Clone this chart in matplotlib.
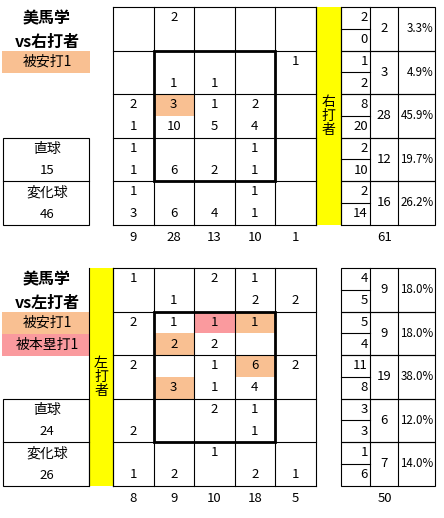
import matplotlib.pyplot as plt
from matplotlib.patches import Rectangle

plt.rcParams['font.family'] = ['Noto Sans CJK JP', 'DejaVu Sans']

pitcher = "美馬学"
titles = ["vs右打者", "vs左打者"]
side_labels = ["右打者", "左打者"]
pitch_names = ["直球", "変化球"]

# 5x5 zone grid, upper number = fastball, lower number = breaking ball
rhb_fast = [[0, 2, 0, 0, 0],
            [0, 0, 0, 0, 1],
            [2, 3, 1, 2, 0],
            [1, 0, 0, 1, 0],
            [1, 0, 0, 1, 0]]
rhb_break = [[0, 0, 0, 0, 0],
             [0, 1, 1, 0, 0],
             [1, 10, 5, 4, 0],
             [1, 6, 2, 1, 0],
             [3, 6, 4, 1, 0]]
lhb_fast = [[1, 0, 2, 1, 0],
            [2, 1, 1, 1, 0],
            [2, 0, 1, 6, 2],
            [0, 0, 2, 1, 0],
            [0, 0, 1, 0, 0]]
lhb_break = [[0, 1, 0, 2, 2],
             [0, 2, 2, 0, 0],
             [0, 3, 1, 4, 0],
             [2, 0, 0, 1, 0],
             [1, 2, 0, 2, 1]]

# highlighted cells: (row, col, half 0=upper/1=lower, kind)
rhb_marks = [(2, 1, 0, "hit")]
lhb_marks = [(1, 2, 0, "hr"), (1, 3, 0, "hit"), (1, 1, 1, "hit"),
             (2, 1, 1, "hit"), (2, 3, 0, "hit")]
legend_rhb = [("被安打1", "hit")]
legend_lhb = [("被安打1", "hit"), ("被本塁打1", "hr")]

colors = {"hit": "#F9C092", "hr": "#FA9A9E"}
YELLOW = "#FFFF00"

fig = plt.figure(figsize=(4.44, 5.18), dpi=100)
ax = fig.add_axes([0, 0, 1, 1])
ax.set_xlim(0, 444)
ax.set_ylim(518, 0)
ax.axis('off')

FS = 9.5
LW = 0.8


def panel(top, fast, brk, marks, title, side, legend, band_left):
    gx0 = 113
    cw = 40.5
    rh = 43.5
    xs = [gx0 + i * cw for i in range(6)]
    ys = [top + i * rh for i in range(6)]
    bottom = ys[-1]

    # highlight cells
    for r, c, h, kind in marks:
        ax.add_patch(Rectangle((xs[c], ys[r] + h * rh / 2), cw, rh / 2,
                               facecolor=colors[kind], edgecolor='none', zorder=1))
    # grid lines
    for x in xs:
        ax.plot([x, x], [top, bottom], color='black', lw=LW, zorder=2)
    for y in ys:
        ax.plot([xs[0], xs[-1]], [y, y], color='black', lw=LW, zorder=2)
    ax.add_patch(Rectangle((xs[1], ys[1]), 3 * cw, 3 * rh, fill=False,
                           edgecolor='black', lw=2.0, zorder=3))
    # cell values
    for r in range(5):
        for c in range(5):
            cx = xs[c] + cw / 2
            if fast[r][c]:
                ax.text(cx, ys[r] + rh * 0.25, str(fast[r][c]), ha='center',
                        va='center', fontsize=FS, zorder=4)
            if brk[r][c]:
                ax.text(cx, ys[r] + rh * 0.75, str(brk[r][c]), ha='center',
                        va='center', fontsize=FS, zorder=4)
    # column totals
    col_tot = [sum(fast[r][c] + brk[r][c] for r in range(5)) for c in range(5)]
    total = sum(col_tot)
    for c in range(5):
        ax.text(xs[c] + cw / 2, bottom + 13, str(col_tot[c]), ha='center',
                va='center', fontsize=FS)
    ax.text(385, bottom + 13, str(total), ha='center', va='center', fontsize=FS)

    # yellow band with vertical label
    if band_left:
        bx0, bx1 = 89, 113
    else:
        bx0, bx1 = xs[-1], 341
    ax.add_patch(Rectangle((bx0, top), bx1 - bx0, bottom - top, facecolor=YELLOW,
                           edgecolor='none', zorder=1))
    ax.plot([bx0, bx0], [top, bottom], color='black', lw=LW, zorder=2)
    ax.plot([bx1, bx1], [top, bottom], color='black', lw=LW, zorder=2)
    mid = (top + bottom) / 2
    for i, ch in enumerate(side):
        ax.text((bx0 + bx1) / 2, mid - 14 + i * 14, ch, ha='center', va='center',
                fontsize=FS + 0.5, zorder=4)

    # right summary boxes
    rx = [341, 370, 398, 435]
    for r in range(5):
        y0 = ys[r]
        f = sum(fast[r])
        b = sum(brk[r])
        ax.add_patch(Rectangle((rx[0], y0), rx[3] - rx[0], rh, fill=False,
                               edgecolor='black', lw=LW))
        ax.plot([rx[0], rx[1]], [y0 + rh / 2] * 2, color='black', lw=LW)
        ax.plot([rx[1], rx[1]], [y0, y0 + rh], color='black', lw=LW)
        ax.plot([rx[2], rx[2]], [y0, y0 + rh], color='black', lw=LW)
        ax.text(rx[1] - 2, y0 + rh * 0.25, str(f), ha='right', va='center', fontsize=FS)
        ax.text(rx[1] - 2, y0 + rh * 0.75, str(b), ha='right', va='center', fontsize=FS)
        ax.text((rx[1] + rx[2]) / 2, y0 + rh / 2, str(f + b), ha='center',
                va='center', fontsize=FS)
        ax.text(rx[3] - 1.5, y0 + rh / 2, f"{100 * (f + b) / total:.1f}%", ha='right',
                va='center', fontsize=8.3)

    # left labels
    ax.text(47, top + 11, pitcher, ha='center', va='center', fontsize=11.5,
            fontweight='bold')
    ax.text(47, top + 35, title, ha='center', va='center', fontsize=11.5,
            fontweight='bold')
    for i, (lab, kind) in enumerate(legend):
        ly = top + rh + i * 22
        ax.add_patch(Rectangle((2, ly), 88, 22, facecolor=colors[kind],
                               edgecolor='none'))
        ax.text(47, ly + 11, lab, ha='center', va='center', fontsize=FS + 0.5)

    # pitch type box
    fast_tot = sum(map(sum, fast))
    brk_tot = sum(map(sum, brk))
    ax.add_patch(Rectangle((3, ys[3]), 86, 2 * rh, fill=False, edgecolor='black',
                           lw=LW))
    ax.plot([3, 89], [ys[4], ys[4]], color='black', lw=LW)
    for i, (name, val) in enumerate(zip(pitch_names, [fast_tot, brk_tot])):
        ax.text(47, ys[3 + i] + rh * 0.27, name, ha='center', va='center',
                fontsize=FS + 0.5)
        ax.text(47, ys[3 + i] + rh * 0.76, str(val), ha='center', va='center',
                fontsize=FS)


panel(7, rhb_fast, rhb_break, rhb_marks, titles[0], side_labels[0], legend_rhb, False)
panel(268, lhb_fast, lhb_break, lhb_marks, titles[1], side_labels[1], legend_lhb, True)

fig.savefig("out.png", dpi=100)
